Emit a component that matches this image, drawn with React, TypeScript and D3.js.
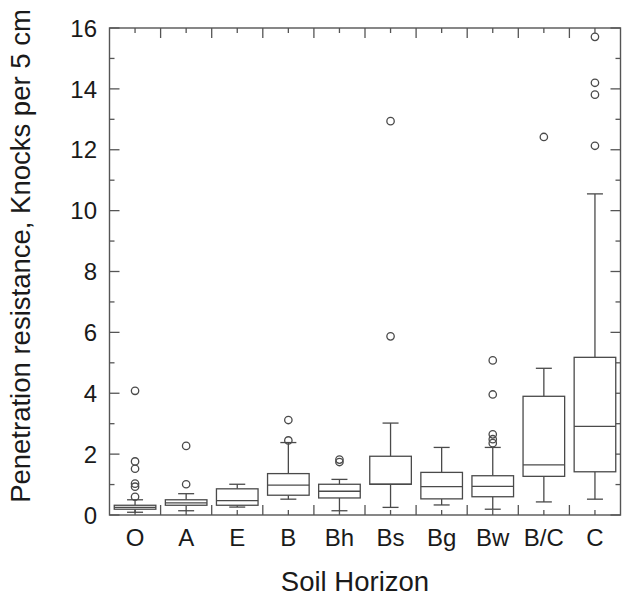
import React from "react";
import * as d3 from "d3";

const categories = ["O", "A", "E", "B", "Bh", "Bs", "Bg", "Bw", "B/C", "C"];
const lowWhisker = [0.09, 0.14, 0.26, 0.52, 0.14, 0.25, 0.33, 0.19, 0.43, 0.52];
const q1 = [0.19, 0.32, 0.32, 0.65, 0.56, 1.01, 0.53, 0.6, 1.27, 1.42];
const median = [0.25, 0.4, 0.47, 0.98, 0.78, 1.01, 0.93, 0.94, 1.65, 2.91];
const q3 = [0.32, 0.5, 0.86, 1.36, 1.01, 1.93, 1.4, 1.29, 3.9, 5.18];
const highWhisker = [0.5, 0.7, 1.01, 2.38, 1.17, 3.02, 2.22, 2.22, 4.82, 10.55];
const outliers = [
  [0.6, 0.93, 1.03, 1.52, 1.76, 4.08],
  [1.01, 2.27],
  [],
  [2.45, 3.12],
  [1.74, 1.82],
  [5.87, 12.94],
  [],
  [2.36, 2.49, 2.65, 3.96, 5.08],
  [12.42],
  [12.13, 13.81, 14.2, 15.71],
];
const yTicks = [0, 2, 4, 6, 8, 10, 12, 14, 16];
const yTitle = "Penetration resistance, Knocks per 5 cm";
const xTitle = "Soil Horizon";

export default function App() {
  const W = 622, H = 596;
  const left = 109.5, right = 620.5, top = 28, bottom = 515;
  const x = d3.scaleBand<string>().domain(categories).range([left, right]).padding(0);
  const y = d3.scaleLinear().domain([0, 16]).range([bottom, top]);
  const bw = x.bandwidth();
  const boxW = 41.6;
  const capW = 16;
  const stroke = "#4a4a4a";
  const font = "'Liberation Sans', Arial, sans-serif";
  const minorY = d3.range(0, 17);

  return (
    <svg width={W} height={H} style={{ position: "absolute", left: 0, top: 0, background: "#fff" }}>
      <rect x={left} y={top} width={right - left} height={bottom - top} fill="none" stroke="#555" strokeWidth={1.4} />
      {/* y ticks left & right */}
      {minorY.map((v) => {
        const len = v % 2 === 0 ? 10 : 5;
        return (
          <g key={"yt" + v}>
            <line x1={left} x2={left + len} y1={y(v)} y2={y(v)} stroke="#555" strokeWidth={1.3} />
            <line x1={right} x2={right - len} y1={y(v)} y2={y(v)} stroke="#555" strokeWidth={1.3} />
          </g>
        );
      })}
      {/* x ticks top & bottom */}
      {categories.map((c, i) => {
        const cx = (x(c) as number) + bw / 2;
        const bx = (x(c) as number) + bw;
        return (
          <g key={"xt" + c}>
            <line x1={cx} x2={cx} y1={bottom} y2={bottom - 5} stroke="#555" strokeWidth={1.3} />
            <line x1={cx} x2={cx} y1={top} y2={top + 5} stroke="#555" strokeWidth={1.3} />
            {i < categories.length - 1 && (
              <>
                <line x1={bx} x2={bx} y1={bottom} y2={bottom - 10} stroke="#555" strokeWidth={1.3} />
                <line x1={bx} x2={bx} y1={top} y2={top + 10} stroke="#555" strokeWidth={1.3} />
              </>
            )}
          </g>
        );
      })}
      {/* boxes */}
      {categories.map((c, i) => {
        const cx = (x(c) as number) + bw / 2;
        return (
          <g key={"box" + c} stroke={stroke} strokeWidth={1.3} fill="none">
            <line x1={cx} x2={cx} y1={y(q3[i])} y2={y(highWhisker[i])} />
            <line x1={cx} x2={cx} y1={y(q1[i])} y2={y(lowWhisker[i])} />
            <line x1={cx - capW / 2} x2={cx + capW / 2} y1={y(highWhisker[i])} y2={y(highWhisker[i])} />
            <line x1={cx - capW / 2} x2={cx + capW / 2} y1={y(lowWhisker[i])} y2={y(lowWhisker[i])} />
            <rect x={cx - boxW / 2} y={y(q3[i])} width={boxW} height={y(q1[i]) - y(q3[i])} fill="#fff" />
            <line x1={cx - boxW / 2} x2={cx + boxW / 2} y1={y(median[i])} y2={y(median[i])} />
            {outliers[i].map((v, j) => (
              <circle key={j} cx={cx} cy={y(v)} r={3.7} />
            ))}
          </g>
        );
      })}
      {/* y labels */}
      {yTicks.map((v) => (
        <text key={"yl" + v} x={97} y={y(v)} dy="0.36em" textAnchor="end" fontSize={24} fontFamily={font} fill="#1a1a1a">
          {v}
        </text>
      ))}
      {/* x labels */}
      {categories.map((c) => (
        <text key={"xl" + c} x={(x(c) as number) + bw / 2} y={546} textAnchor="middle" fontSize={24} fontFamily={font} fill="#1a1a1a">
          {c}
        </text>
      ))}
      <text x={355} y={591} textAnchor="middle" fontSize={27.5} fontFamily={font} fill="#1a1a1a">
        {xTitle}
      </text>
      <text transform={`translate(30,256) rotate(-90)`} textAnchor="middle" fontSize={27.5} fontFamily={font} fill="#1a1a1a">
        {yTitle}
      </text>
    </svg>
  );
}
